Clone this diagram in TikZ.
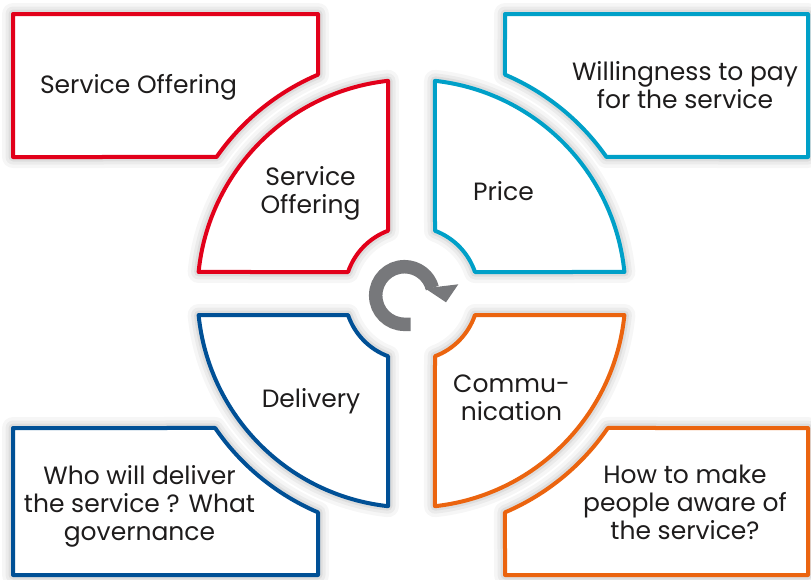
\documentclass[tikz,border=0pt]{standalone}
\usepackage{fontspec}
\setmainfont{Poppins}
\usetikzlibrary{calc}
\definecolor{cRed}{RGB}{226,0,26}
\definecolor{cCyan}{RGB}{0,160,200}
\definecolor{cNavy}{RGB}{0,80,150}
\definecolor{cOrange}{RGB}{235,100,15}
\definecolor{cIcon}{RGB}{119,120,123}
\definecolor{cText}{RGB}{30,28,28}
\begin{document}
\begin{tikzpicture}[x=1pt,y=1pt,
  glow/.style={
    preaction={draw=black, draw opacity=0.035, line width=22pt, line join=round},
    preaction={draw=black, draw opacity=0.045, line width=15pt, line join=round},
    preaction={draw=black, draw opacity=0.06, line width=9pt, line join=round}},
  panel/.style={glow, fill=white, line width=4pt, line join=round},
  label/.style={font=\fontsize{25}{28}\selectfont, text=cText, align=center,
    anchor=base, inner sep=0pt}]
\useasboundingbox (0,0) rectangle (811,-579);
\coordinate (C) at (411.5,-293.5);

% outer text panels, each with a corner cut along a circle around C
\path[panel, draw=cRed] (13,-14) -- (318,-14)
  -- ($(C)+(113.13:238pt)$) arc[start angle=113.13, end angle=145.00, radius=238pt]
  -- (13,-157) -- cycle;
\path[panel, draw=cCyan] (808,-14) -- (505,-14)
  -- ($(C)+(66.87:238pt)$) arc[start angle=66.87, end angle=35.00, radius=238pt]
  -- (808,-157) -- cycle;
\path[panel, draw=cNavy] (13,-575) -- (13,-428)
  -- ($(C)+(214.41:238pt)$) arc[start angle=214.41, end angle=246.87, radius=238pt]
  -- (318,-575) -- cycle;
\path[panel, draw=cOrange] (808,-428)
  -- ($(C)+(-34.41:238pt)$) arc[start angle=-34.41, end angle=-66.87, radius=238pt]
  -- (505,-575) -- (808,-575) -- cycle;

% four quarter-ring sectors around the centre
\path[panel, draw=cRed] ($(C)+(96.30:214pt)$)
  arc[start angle=96.30, end angle=174.23, radius=214pt]
  -- ($(C)+(161.28:67pt)$) arc[start angle=161.28, end angle=110.53, radius=67pt] -- cycle;
\path[panel, draw=cCyan] ($(C)+(83.70:214pt)$)
  arc[start angle=83.70, end angle=5.77, radius=214pt]
  -- ($(C)+(18.72:67pt)$) arc[start angle=18.72, end angle=69.47, radius=67pt] -- cycle;
\path[panel, draw=cNavy] ($(C)+(185.77:214pt)$)
  arc[start angle=185.77, end angle=263.70, radius=214pt]
  -- ($(C)+(249.47:67pt)$) arc[start angle=249.47, end angle=198.72, radius=67pt] -- cycle;
\path[panel, draw=cOrange] ($(C)+(-83.70:214pt)$)
  arc[start angle=-83.70, end angle=-5.77, radius=214pt]
  -- ($(C)+(-18.72:67pt)$) arc[start angle=-18.72, end angle=-69.47, radius=67pt] -- cycle;

% cycle icon in the middle
\coordinate (A) at (404.5,-295.5);
\draw[cIcon, line width=13.5pt] (410.7,-324.3) -- ($(A)+(-90:28.8pt)$)
  arc[start angle=-90, end angle=-345, radius=28.8pt];
\fill[cIcon] (425,-288.3) -- (458.3,-284.3) -- (446,-302.3) -- cycle;

% labels (anchor base = baseline of the last line)
\node[label] (tlbox) at (138.5,-93) {Service Offering};
\node[label] (trbox) at (685,-108) {Willingness to pay\\for the service};
\node[label] (tlsec) at (310.5,-213) {Service\\Offering};
\node[label] (trsec) at (503.5,-200) {Price};
\node[label] (blsec) at (311,-407) {Delivery};
\node[label] (brsec) at (511.5,-420) {Commu-\\nication};
\node[label] (blbox) at (139.5,-540) {Who will deliver\\the service ? What\\governance};
\node[label] (brbox) at (685,-539) {How to make\\people aware of\\the service?};
\end{tikzpicture}
\end{document}
